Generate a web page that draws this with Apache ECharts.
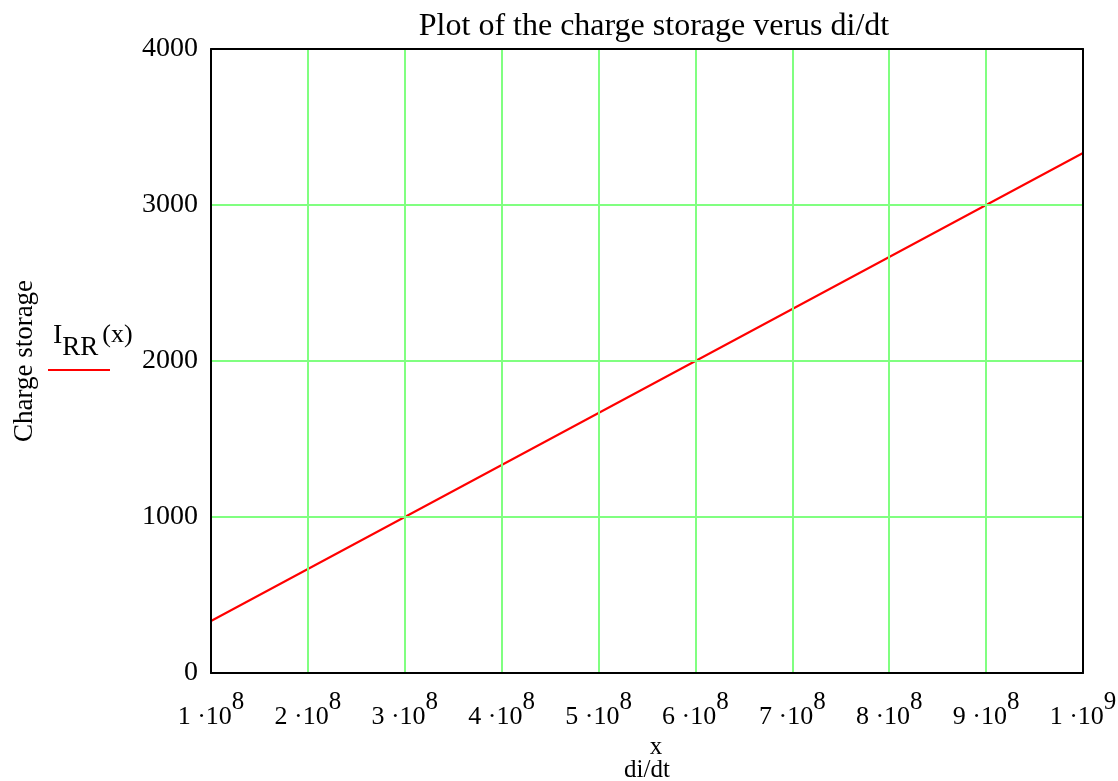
<!DOCTYPE html>
<html>
<head>
<meta charset="utf-8">
<script src="https://cdn.jsdelivr.net/npm/echarts@6/dist/echarts.min.js"></script>
<style>
html,body{margin:0;padding:0;background:#fff;}
#chart{width:1118px;height:781px;}
</style>
</head>
<body>
<div id="chart"></div>
<script>
var titleText = 'Plot of the charge storage verus di/dt';
var xValues = [1e8, 2e8, 3e8, 4e8, 5e8, 6e8, 7e8, 8e8, 9e8, 1e9];
var chargeValues = [333.3, 666.7, 1000, 1333.3, 1666.7, 2000, 2333.3, 2666.7, 3000, 3333.3];
var yTicks = [0, 1000, 2000, 3000, 4000];

var FONT = '"Liberation Serif","DejaVu Serif",serif';
var chart = echarts.init(document.getElementById('chart'));

function xLabel(v) {
  var exp = Math.floor(Math.log10(v) + 1e-9);
  var mant = Math.round(v / Math.pow(10, exp));
  return '{b|' + mant + ' \u00b710}{s|' + exp + '}';
}

var borderAxis = {
  axisLine: {show: true, onZero: false, lineStyle: {color: '#000', width: 2}},
  axisTick: {show: false}, axisLabel: {show: false}, splitLine: {show: false}, z: 10
};

chart.setOption({
  animation: false,
  backgroundColor: '#fff',
  title: {
    text: titleText,
    left: 649, top: 6, textAlign: 'center',
    textStyle: {fontFamily: FONT, fontSize: 32, fontWeight: 'normal', color: '#000'}
  },
  grid: {
    left: 211, right: 35, top: 49, bottom: 108,
    outerBoundsMode: 'none', containLabel: false
  },
  xAxis: [{
    type: 'value', min: 1e8, max: 1e9, interval: 1e8,
    name: '{x|x}\n{d|di/dt}', nameLocation: 'middle', nameGap: 52,
    nameTextStyle: {
      rich: {
        x: {fontFamily: FONT, fontSize: 25, color: '#000', lineHeight: 22, padding: [0, 0, 0, 18]},
        d: {fontFamily: FONT, fontSize: 25, color: '#000', lineHeight: 24}
      }
    },
    axisLine: {show: true, onZero: false, lineStyle: {color: '#000', width: 2}},
    axisTick: {show: false},
    splitLine: {show: true, showMinLine: false, showMaxLine: false, lineStyle: {color: '#80FF80', width: 2}},
    axisLabel: {
      showMinLabel: true, showMaxLabel: true, margin: 17,
      formatter: xLabel,
      rich: {
        b: {fontFamily: FONT, fontSize: 26, color: '#000', padding: [14, 0, 0, 0], verticalAlign: 'bottom'},
        s: {fontFamily: FONT, fontSize: 25, color: '#000', verticalAlign: 'top'}
      }
    },
    z: 10
  }, Object.assign({type: 'value', position: 'top', min: 1e8, max: 1e9}, borderAxis)],
  yAxis: [{
    type: 'value', min: 0, max: 4000, interval: 1000,
    name: 'Charge storage', nameLocation: 'middle', nameGap: 173, nameRotate: 90,
    nameTextStyle: {fontFamily: FONT, fontSize: 27, color: '#000'},
    axisLine: {show: true, onZero: false, lineStyle: {color: '#000', width: 2}},
    axisTick: {show: false},
    splitLine: {show: true, showMinLine: false, showMaxLine: false, lineStyle: {color: '#80FF80', width: 2}},
    axisLabel: {
      margin: 13, fontFamily: FONT, fontSize: 28, color: '#000',
      formatter: function (v) { return yTicks.indexOf(v) >= 0 ? String(v) : ''; }
    },
    z: 10
  }, Object.assign({type: 'value', position: 'right', min: 0, max: 4000}, borderAxis)],
  series: [{
    name: 'I_RR(x)',
    type: 'line',
    data: xValues.map(function (x, i) { return [x, chargeValues[i]]; }),
    showSymbol: false,
    lineStyle: {color: '#FF0000', width: 2},
    z: 5
  }],
  graphic: [
    {
      type: 'text', left: 53, top: 322,
      style: {
        text: '{i|I}{r|RR}{p|(x)}',
        rich: {
          i: {fontFamily: FONT, fontSize: 28, fill: '#000', verticalAlign: 'top'},
          r: {fontFamily: FONT, fontSize: 27, fill: '#000', verticalAlign: 'top', padding: [12, 0, 0, 0]},
          p: {fontFamily: FONT, fontSize: 26, fill: '#000', verticalAlign: 'top', padding: [0, 0, 0, 4]}
        }
      }
    },
    {
      type: 'line', shape: {x1: 48, y1: 370, x2: 110, y2: 370},
      style: {stroke: '#FF0000', lineWidth: 2}
    }
  ]
});
</script>
</body>
</html>
